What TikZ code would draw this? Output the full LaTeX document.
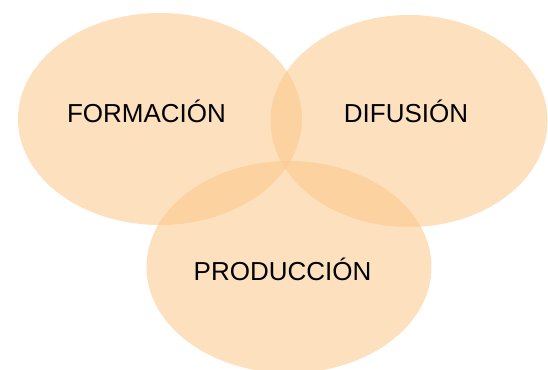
\documentclass[tikz,border=0pt]{standalone}
\usepackage{fontspec}
\setmainfont{Liberation Sans}
\usetikzlibrary{shapes.geometric}
\definecolor{peach}{RGB}{251,199,137}
\begin{document}
\begin{tikzpicture}[x=1pt,y=1pt,
  blob/.style={ellipse, fill=peach, fill opacity=0.55, draw=none, inner sep=0pt,
    minimum width=284pt, minimum height=212pt},
  lbl/.style={anchor=base, inner sep=0pt, font=\fontsize{26}{30}\selectfont, text=black}]
\useasboundingbox (0,0) rectangle (548,369);
\node[blob] (form) at (160,{369-119}) {};
\node[blob, minimum width=277pt] (difu) at (409,{369-121}) {};
\node[blob, minimum width=285pt] (prod) at (289,{369-267}) {};
\node[lbl] (tform) at (146.5,{369-123}) {FORMACIÓN};
\node[lbl] (tdifu) at (406,{369-123}) {DIFUSIÓN};
\node[lbl] (tprod) at (282.5,{369-281}) {PRODUCCIÓN};
\end{tikzpicture}
\end{document}
